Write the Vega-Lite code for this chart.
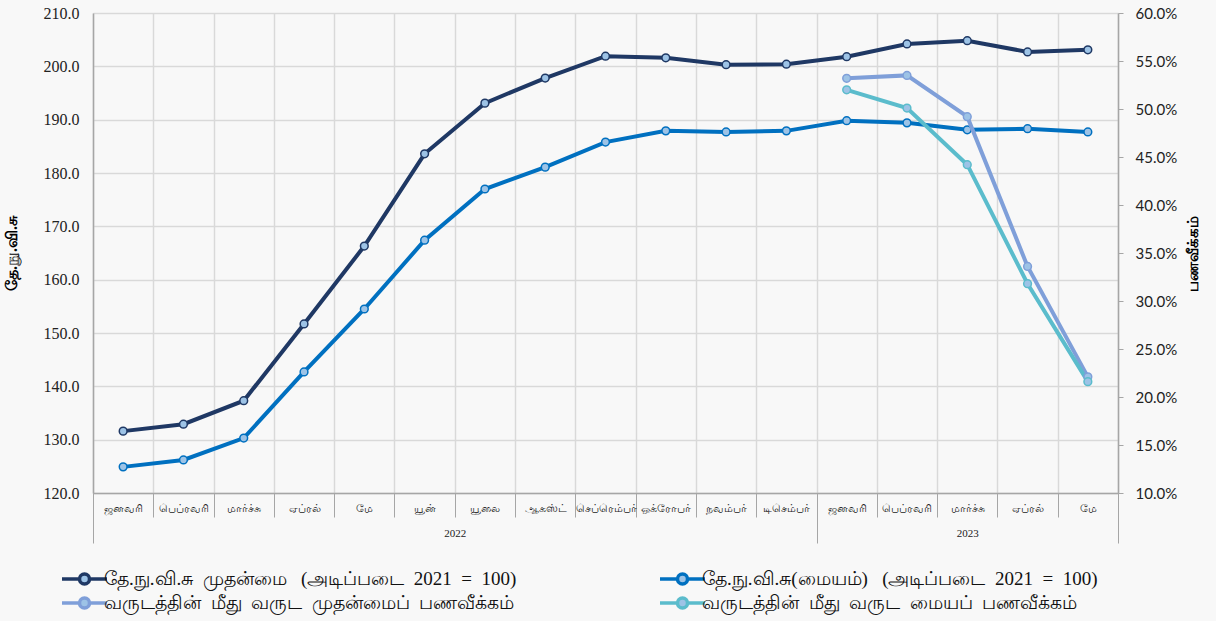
{
  "$schema": "https://vega.github.io/schema/vega-lite/v6.json",
  "width": 1025,
  "height": 480,
  "autosize": {"type": "none"},
  "padding": {"left": 93, "top": 13, "right": 98, "bottom": 128},
  "background": "#F8F8F8",
  "config": {
    "view": {"stroke": null},
    "font": "Liberation Serif"
  },
  "datasets": {
    "idx": [
      {"key": "ஜனவரி 2022", "series": "தே.நு.வி.சு முதன்மை (அடிப்படை 2021 = 100)", "value": 131.6},
      {"key": "பெப்ரவரி 2022", "series": "தே.நு.வி.சு முதன்மை (அடிப்படை 2021 = 100)", "value": 132.9},
      {"key": "மார்ச்சு 2022", "series": "தே.நு.வி.சு முதன்மை (அடிப்படை 2021 = 100)", "value": 137.3},
      {"key": "ஏப்ரல் 2022", "series": "தே.நு.வி.சு முதன்மை (அடிப்படை 2021 = 100)", "value": 151.7},
      {"key": "மே 2022", "series": "தே.நு.வி.சு முதன்மை (அடிப்படை 2021 = 100)", "value": 166.3},
      {"key": "யூன் 2022", "series": "தே.நு.வி.சு முதன்மை (அடிப்படை 2021 = 100)", "value": 183.6},
      {"key": "யூலை 2022", "series": "தே.நு.வி.சு முதன்மை (அடிப்படை 2021 = 100)", "value": 193.1},
      {"key": "ஆகஸ்ட் 2022", "series": "தே.நு.வி.சு முதன்மை (அடிப்படை 2021 = 100)", "value": 197.8},
      {"key": "செப்ரெம்பர் 2022", "series": "தே.நு.வி.சு முதன்மை (அடிப்படை 2021 = 100)", "value": 201.9},
      {"key": "ஒக்ரோபர் 2022", "series": "தே.நு.வி.சு முதன்மை (அடிப்படை 2021 = 100)", "value": 201.6},
      {"key": "நவம்பர் 2022", "series": "தே.நு.வி.சு முதன்மை (அடிப்படை 2021 = 100)", "value": 200.3},
      {"key": "டிசெம்பர் 2022", "series": "தே.நு.வி.சு முதன்மை (அடிப்படை 2021 = 100)", "value": 200.4},
      {"key": "ஜனவரி 2023", "series": "தே.நு.வி.சு முதன்மை (அடிப்படை 2021 = 100)", "value": 201.8},
      {"key": "பெப்ரவரி 2023", "series": "தே.நு.வி.சு முதன்மை (அடிப்படை 2021 = 100)", "value": 204.2},
      {"key": "மார்ச்சு 2023", "series": "தே.நு.வி.சு முதன்மை (அடிப்படை 2021 = 100)", "value": 204.8},
      {"key": "ஏப்ரல் 2023", "series": "தே.நு.வி.சு முதன்மை (அடிப்படை 2021 = 100)", "value": 202.7},
      {"key": "மே 2023", "series": "தே.நு.வி.சு முதன்மை (அடிப்படை 2021 = 100)", "value": 203.1},
      {"key": "ஜனவரி 2022", "series": "தே.நு.வி.சு(மையம்) (அடிப்படை 2021 = 100)", "value": 124.9},
      {"key": "பெப்ரவரி 2022", "series": "தே.நு.வி.சு(மையம்) (அடிப்படை 2021 = 100)", "value": 126.2},
      {"key": "மார்ச்சு 2022", "series": "தே.நு.வி.சு(மையம்) (அடிப்படை 2021 = 100)", "value": 130.3},
      {"key": "ஏப்ரல் 2022", "series": "தே.நு.வி.சு(மையம்) (அடிப்படை 2021 = 100)", "value": 142.7},
      {"key": "மே 2022", "series": "தே.நு.வி.சு(மையம்) (அடிப்படை 2021 = 100)", "value": 154.5},
      {"key": "யூன் 2022", "series": "தே.நு.வி.சு(மையம்) (அடிப்படை 2021 = 100)", "value": 167.4},
      {"key": "யூலை 2022", "series": "தே.நு.வி.சு(மையம்) (அடிப்படை 2021 = 100)", "value": 177.0},
      {"key": "ஆகஸ்ட் 2022", "series": "தே.நு.வி.சு(மையம்) (அடிப்படை 2021 = 100)", "value": 181.1},
      {"key": "செப்ரெம்பர் 2022", "series": "தே.நு.வி.சு(மையம்) (அடிப்படை 2021 = 100)", "value": 185.8},
      {"key": "ஒக்ரோபர் 2022", "series": "தே.நு.வி.சு(மையம்) (அடிப்படை 2021 = 100)", "value": 187.9},
      {"key": "நவம்பர் 2022", "series": "தே.நு.வி.சு(மையம்) (அடிப்படை 2021 = 100)", "value": 187.7},
      {"key": "டிசெம்பர் 2022", "series": "தே.நு.வி.சு(மையம்) (அடிப்படை 2021 = 100)", "value": 187.9},
      {"key": "ஜனவரி 2023", "series": "தே.நு.வி.சு(மையம்) (அடிப்படை 2021 = 100)", "value": 189.8},
      {"key": "பெப்ரவரி 2023", "series": "தே.நு.வி.சு(மையம்) (அடிப்படை 2021 = 100)", "value": 189.4},
      {"key": "மார்ச்சு 2023", "series": "தே.நு.வி.சு(மையம்) (அடிப்படை 2021 = 100)", "value": 188.1},
      {"key": "ஏப்ரல் 2023", "series": "தே.நு.வி.சு(மையம்) (அடிப்படை 2021 = 100)", "value": 188.3},
      {"key": "மே 2023", "series": "தே.நு.வி.சு(மையம்) (அடிப்படை 2021 = 100)", "value": 187.7}
    ],
    "yoy": [
      {"key": "ஜனவரி 2023", "series": "வருடத்தின் மீது வருட முதன்மைப் பணவீக்கம்", "value": 0.532},
      {"key": "பெப்ரவரி 2023", "series": "வருடத்தின் மீது வருட முதன்மைப் பணவீக்கம்", "value": 0.535},
      {"key": "மார்ச்சு 2023", "series": "வருடத்தின் மீது வருட முதன்மைப் பணவீக்கம்", "value": 0.492},
      {"key": "ஏப்ரல் 2023", "series": "வருடத்தின் மீது வருட முதன்மைப் பணவீக்கம்", "value": 0.336},
      {"key": "மே 2023", "series": "வருடத்தின் மீது வருட முதன்மைப் பணவீக்கம்", "value": 0.221},
      {"key": "ஜனவரி 2023", "series": "வருடத்தின் மீது வருட மையப் பணவீக்கம்", "value": 0.520},
      {"key": "பெப்ரவரி 2023", "series": "வருடத்தின் மீது வருட மையப் பணவீக்கம்", "value": 0.501},
      {"key": "மார்ச்சு 2023", "series": "வருடத்தின் மீது வருட மையப் பணவீக்கம்", "value": 0.442},
      {"key": "ஏப்ரல் 2023", "series": "வருடத்தின் மீது வருட மையப் பணவீக்கம்", "value": 0.318},
      {"key": "மே 2023", "series": "வருடத்தின் மீது வருட மையப் பணவீக்கம்", "value": 0.216}
    ],
    "years": [{"p": 0}, {"p": 17}]
  },
  "layer": [
    {
      "data": {"name": "idx"},
      "mark": {"type": "line", "strokeWidth": 4, "point": {"filled": false, "fill": "#9DC3E6", "size": 60, "strokeWidth": 1.5}},
      "encoding": {
        "x": {
          "field": "key", "type": "ordinal", "sort": null,
          "scale": {"type": "band", "paddingInner": 0, "paddingOuter": 0,
            "domain": ["ஜனவரி 2022","பெப்ரவரி 2022","மார்ச்சு 2022","ஏப்ரல் 2022","மே 2022","யூன் 2022","யூலை 2022","ஆகஸ்ட் 2022","செப்ரெம்பர் 2022","ஒக்ரோபர் 2022","நவம்பர் 2022","டிசெம்பர் 2022","ஜனவரி 2023","பெப்ரவரி 2023","மார்ச்சு 2023","ஏப்ரல் 2023","மே 2023"]},
          "axis": {
            "title": null, "orient": "bottom", "tickBand": "extent", "grid": true, "gridColor": "#D9D9D9", "gridWidth": 1.5,
            "domainColor": "#A6A6A6", "domainWidth": 1.5, "tickColor": "#A6A6A6", "tickSize": 24, "tickWidth": 1,
            "labelAngle": 0, "labelFontSize": 11, "labelColor": "#222222", "labelPadding": -15,
            "labelExpr": "isString(datum.value) ? split(datum.value, ' ')[0] : ''"
          }
        },
        "y": {
          "field": "value", "type": "quantitative",
          "scale": {"domain": [120, 210], "nice": false, "zero": false},
          "axis": {
            "title": "தே.நு.வி.சு", "titleFontSize": 16, "titleFontWeight": "bold", "titleColor": "#000000", "titlePadding": 24,
            "values": [120,130,140,150,160,170,180,190,200,210], "format": ".1f",
            "labelFontSize": 16, "labelColor": "#222222", "labelPadding": 14, "ticks": false,
            "grid": true, "gridColor": "#D9D9D9", "gridWidth": 1.5,
            "domainColor": "#A6A6A6", "domainWidth": 1.5
          }
        },
        "color": {
          "field": "series", "type": "nominal",
          "scale": {
            "domain": ["தே.நு.வி.சு முதன்மை (அடிப்படை 2021 = 100)", "தே.நு.வி.சு(மையம்) (அடிப்படை 2021 = 100)", "வருடத்தின் மீது வருட முதன்மைப் பணவீக்கம்", "வருடத்தின் மீது வருட மையப் பணவீக்கம்"],
            "range": ["#1F3864", "#0070C0", "#7F9FD9", "#5BBCCC"]
          },
          "legend": {
            "title": null, "orient": "none", "legendX": -33, "legendY": 554, "columns": 2, "direction": "horizontal",
            "columnPadding": 136, "rowPadding": -1,
            "labelFontSize": 19, "labelColor": "#111111", "labelLimit": 600, "labelOffset": 20,
            "labelExpr": "replace(replace(datum.label, regexp(' \\\\(', 'g'), '\u00a0\u00a0\u00a0('), regexp(' ', 'g'), '\u00a0\u00a0')",
            "symbolType": "M-1,0H0.75M1.75,0H3.5M0.75,0A0.5,0.5 0 1,0 1.75,0A0.5,0.5 0 1,0 0.75,0Z",
            "symbolSize": 400, "symbolStrokeWidth": 3.5,
            "encode": {"symbols": {"update": {"fill": {"value": "#9DC3E6"}, "fillOpacity": {"value": 1}}}}
          }
        }
      }
    },
    {
      "data": {"name": "yoy"},
      "mark": {"type": "line", "strokeWidth": 4, "point": {"filled": false, "fill": "#9DC3E6", "size": 60, "strokeWidth": 1.5}},
      "encoding": {
        "x": {
          "field": "key", "type": "ordinal", "sort": null,
          "scale": {"type": "band", "paddingInner": 0, "paddingOuter": 0,
            "domain": ["ஜனவரி 2022","பெப்ரவரி 2022","மார்ச்சு 2022","ஏப்ரல் 2022","மே 2022","யூன் 2022","யூலை 2022","ஆகஸ்ட் 2022","செப்ரெம்பர் 2022","ஒக்ரோபர் 2022","நவம்பர் 2022","டிசெம்பர் 2022","ஜனவரி 2023","பெப்ரவரி 2023","மார்ச்சு 2023","ஏப்ரல் 2023","மே 2023"]},
          "axis": null
        },
        "y": {
          "field": "value", "type": "quantitative",
          "scale": {"domain": [0.1, 0.6], "nice": false, "zero": false},
          "axis": {
            "orient": "right", "title": "பணவீக்கம்", "titleAngle": 270, "titleFontSize": 15, "titleFontWeight": "bold", "titleColor": "#000000", "titlePadding": 24,
            "values": [0.1,0.15,0.2,0.25,0.3,0.35,0.4,0.45,0.5,0.55,0.6], "format": ".1%",
            "labelFont": "Lato", "labelFontSize": 15, "labelColor": "#222222", "labelPadding": 12,
            "tickSize": 5, "tickColor": "#A6A6A6", "grid": false,
            "domainColor": "#A6A6A6", "domainWidth": 1.5
          }
        },
        "color": {"field": "series", "type": "nominal"}
      }
    },
    {
      "data": {"name": "years"},
      "mark": {"type": "point", "opacity": 0},
      "encoding": {
        "x": {
          "field": "p", "type": "quantitative",
          "scale": {"domain": [0, 17], "nice": false, "zero": false},
          "axis": {
            "title": null, "orient": "bottom", "values": [0, 6, 12, 14.5, 17], "grid": false, "domain": false,
            "tickSize": 50, "tickColor": "#A6A6A6", "tickWidth": 1,
            "tickOpacity": {"condition": {"test": "datum.value == 6 || datum.value == 14.5", "value": 0}, "value": 1},
            "labelExpr": "datum.value == 6 ? '2022' : datum.value == 14.5 ? '2023' : ''",
            "labelFontSize": 11, "labelColor": "#222222", "labelPadding": -16, "labelFlush": false, "labelOverlap": false
          }
        }
      }
    }
  ],
  "resolve": {"scale": {"y": "independent", "x": "independent"}}
}
